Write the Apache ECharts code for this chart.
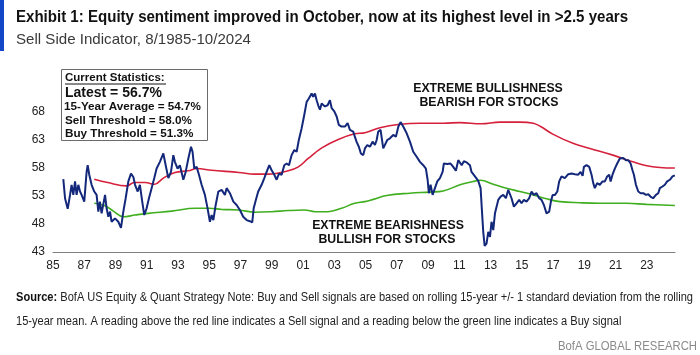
<!DOCTYPE html>
<html><head><meta charset="utf-8">
<script src="https://cdn.jsdelivr.net/npm/echarts@6/dist/echarts.min.js"></script>
<style>html,body{margin:0;padding:0;background:#fff}#c{width:700px;height:355px}</style>
</head><body><div id="c"></div>
<script>
// Sell Side Indicator (blue), decimal years
const sentimentYears = [
1985.66,1985.77,1985.94,1986.09,1986.19,1986.30,1986.41,1986.51,1986.62,1986.73,1986.83,1987.00,1987.15,1987.22,1987.32,1987.47,1987.64,1987.79,1987.90,1988.00,
1988.11,1988.33,1988.43,1988.54,1988.65,1988.75,1988.97,1989.18,1989.35,1989.50,1989.65,1989.82,1989.99,1990.14,1990.25,1990.42,1990.56,1990.71,1990.84,1990.99,
1991.14,1991.31,1991.48,1991.63,1991.84,1992.06,1992.21,1992.38,1992.55,1992.70,1992.80,1992.97,1993.12,1993.34,1993.49,1993.66,1993.83,1993.93,1994.04,1994.19,
1994.34,1994.51,1994.72,1994.89,1995.04,1995.15,1995.26,1995.41,1995.58,1995.79,1996.00,1996.11,1996.32,1996.54,1996.75,1996.96,1997.17,1997.39,1997.60,1997.75,
1997.84,1997.98,1998.13,1998.35,1998.52,1998.67,1998.84,1998.99,1999.16,1999.31,1999.46,1999.63,1999.80,1999.95,2000.10,2000.27,2000.44,2000.59,2000.73,2000.91,
2001.08,2001.23,2001.37,2001.55,2001.65,2001.76,2001.87,2001.97,2002.08,2002.19,2002.40,2002.57,2002.72,2002.83,2003.00,2003.15,2003.29,2003.46,2003.68,2003.85,
2004.00,2004.21,2004.42,2004.57,2004.70,2004.85,2004.96,2005.11,2005.28,2005.45,2005.60,2005.71,2005.81,2005.96,2006.05,2006.13,2006.24,2006.39,2006.56,2006.77,
2006.94,2007.10,2007.24,2007.41,2007.63,2007.84,2008.05,2008.27,2008.48,2008.69,2008.86,2008.97,2009.05,2009.16,2009.29,2009.44,2009.59,2009.76,2009.93,2010.01,
2010.23,2010.44,2010.61,2010.78,2010.93,2011.04,2011.15,2011.29,2011.47,2011.68,2011.78,2012.00,2012.21,2012.36,2012.45,2012.53,2012.62,2012.74,2012.85,2012.96,
2013.06,2013.17,2013.28,2013.38,2013.49,2013.64,2013.81,2013.98,2014.13,2014.24,2014.34,2014.49,2014.66,2014.83,2014.98,2015.13,2015.30,2015.47,2015.62,2015.77,
2015.94,2016.11,2016.26,2016.41,2016.58,2016.75,2016.86,2016.97,2017.12,2017.27,2017.39,2017.54,2017.75,2017.97,2018.18,2018.39,2018.61,2018.76,2018.89,2018.97,
2019.14,2019.31,2019.46,2019.57,2019.67,2019.82,2019.99,2020.16,2020.31,2020.46,2020.59,2020.68,2020.80,2020.95,2021.10,2021.27,2021.49,2021.66,2021.81,2021.96,
2022.08,2022.17,2022.30,2022.45,2022.60,2022.77,2022.94,2023.09,2023.23,2023.40,2023.58,2023.73,2023.83,2024.00,2024.15,2024.30,2024.47,2024.64,2024.79];
const sentimentValues = [
56.0,52.6,50.7,53.2,55.0,53.2,55.6,53.2,55.0,53.8,53.2,52.0,57.3,58.5,56.8,55.0,53.8,53.2,50.2,52.0,
49.9,53.2,50.8,49.3,50.2,48.4,49.0,48.4,47.3,50.2,52.6,55.6,57.0,56.4,55.0,53.8,55.0,52.0,49.6,50.8,
52.6,54.4,56.2,57.9,59.1,60.6,58.5,56.2,57.3,60.3,59.1,57.9,58.5,55.9,57.3,59.7,61.8,60.9,57.9,58.2,
56.8,55.0,53.2,50.8,48.4,49.6,48.7,51.4,53.8,54.1,53.2,54.4,53.5,52.0,51.4,50.5,49.3,48.7,48.5,48.3,
50.8,52.3,53.8,55.0,56.2,57.3,58.5,57.6,56.8,55.9,57.0,56.8,58.5,58.8,58.5,60.3,61.2,60.9,63.0,65.1,
67.5,69.8,70.4,71.3,70.7,71.3,70.1,69.2,68.4,69.5,69.0,69.2,70.1,68.7,68.1,67.2,65.7,65.4,65.4,66.0,
64.8,64.5,62.7,61.8,60.6,60.3,61.5,62.1,61.8,62.7,62.1,63.0,64.5,64.8,64.5,61.5,61.8,63.0,63.3,63.9,
63.6,65.4,66.2,65.4,64.2,62.7,60.9,60.0,59.1,58.5,57.9,55.9,53.5,55.0,53.2,54.4,55.6,56.2,57.3,58.8,
58.7,58.8,58.2,57.5,59.4,59.4,58.5,59.2,59.0,58.5,57.3,56.5,55.7,54.4,50.2,46.6,44.1,44.5,46.6,45.7,
48.4,46.9,49.9,50.2,52.3,52.9,53.2,52.6,54.1,54.4,52.6,51.1,51.7,52.3,51.7,52.3,52.0,52.6,53.8,53.2,
53.5,52.6,52.3,51.4,49.9,50.2,52.0,53.2,53.2,53.8,55.6,56.5,56.2,56.9,57.0,56.9,56.8,57.3,56.6,58.2,
58.5,58.2,56.8,55.3,54.4,55.3,55.0,55.6,55.6,56.5,56.8,55.6,56.8,57.9,58.8,59.7,59.8,59.4,59.4,58.8,
57.6,56.8,55.0,53.8,53.5,53.5,53.2,53.3,52.9,52.6,53.2,53.5,54.4,54.7,55.0,55.6,55.9,56.5,56.7];

// Sell threshold (red): rolling 15-year mean + 1 sd
const sellYears = [1987.64,1988.5,1989.7,1990.2,1990.9,1991.5,1992.06,1992.8,1993.66,1994.2,1995.15,1996.9,1997.9,1998.8,2000.05,2000.7,2001.33,2002.2,2003.25,2004.3,2004.96,2005.92,2007.2,2008.48,2010.0,2011.04,2012.4,2013.6,2014.87,2015.73,2016.2,2017.01,2018.27,2019.36,2020.83,2022.1,2023.0,2023.83,2024.79];
const sellValues = [56.0,55.4,54.8,55.4,55.4,55.1,56.2,57.2,57.5,57.9,57.6,57.2,56.9,56.9,57.5,58.2,59.7,61.6,63.1,64.1,64.3,65.2,65.8,66.0,66.0,66.1,65.9,66.2,66.2,66.0,65.4,64.0,62.4,61.5,60.3,59.1,58.4,58.1,58.0];

// Buy threshold (green): rolling 15-year mean - 1 sd
const buyYears = [1987.64,1988.3,1988.86,1989.5,1990.25,1991.1,1992.6,1994.1,1995.0,1995.8,1996.9,1997.9,1999.0,2000.05,2001.1,2001.76,2002.6,2003.46,2004.3,2004.96,2005.5,2006.35,2007.84,2009.12,2009.97,2011.04,2011.89,2012.36,2013.17,2014.02,2014.87,2015.73,2016.58,2017.44,2018.71,2019.99,2021.7,2022.98,2024.79];
const buyValues = [51.7,51.3,50.3,49.3,49.6,49.9,50.3,50.8,50.8,50.6,50.5,50.1,50.2,50.4,50.5,50.2,50.2,50.8,51.7,52.0,52.4,53.1,53.5,53.7,53.9,55.0,55.6,55.8,55.1,54.4,53.8,53.2,52.5,52.0,51.8,51.7,51.7,51.5,51.3];

const xTickYears = [1985,1987,1989,1991,1993,1995,1997,1999,2001,2003,2005,2007,2009,2011,2013,2015,2017,2019,2021,2023];
const yTicks = [43,48,53,58,63,68];

const statLines = ['Latest = 56.7%','15-Year Average = 54.7%','Sell Threshold = 58.0%','Buy Threshold = 51.3%'];

const zip = (xs, ys) => xs.map((x, i) => [x, ys[i]]);
const ARIAL = '"Liberation Sans",Arial,sans-serif';

// horizontal scale so that an Arial-family text imitates the condensed house font
const mctx = document.createElement('canvas').getContext('2d');
function textW(str, size, weight) {
  mctx.font = (weight || 'normal') + ' ' + size + 'px "Liberation Sans"';
  return mctx.measureText(str).width;
}
const titleText = 'Exhibit 1: Equity sentiment improved in October, now at its highest level in >2.5 years';
const subText = 'Sell Side Indicator, 8/1985-10/2024';
const src1a = 'Source:';
const src1b = ' BofA US Equity & Quant Strategy Note: Buy and Sell signals are based on rolling 15-year +/- 1 standard deviation from the rolling';
const src2 = '15-year mean. A reading above the red line indicates a Sell signal and a reading below the green line indicates a Buy signal';
const brand = 'BofA GLOBAL RESEARCH';
const titleScale = 612 / textW(titleText, 16, 'bold');
const subScale = 235 / textW(subText, 15);
const srcScale = 677 / (textW(src1a, 12, 'bold') + textW(src1b, 12));
const brandScale = 139 / textW(brand, 13);

const chart = echarts.init(document.getElementById('c'), null, {renderer: 'canvas'});
chart.setOption({
  animation: false,
  backgroundColor: '#fff',
  grid: {left: 53, right: 25, top: 84, bottom: 103},
  xAxis: {
    type: 'value', min: 1985, max: 2024.8,
    axisLine: {show: true, lineStyle: {color: '#808080', width: 1}},
    axisTick: {show: false}, splitLine: {show: false},
    axisLabel: {customValues: xTickYears, color: '#222', fontSize: 12, fontFamily: ARIAL, margin: 8,
      formatter: v => String(Math.round(v) % 100).padStart(2, '0')}
  },
  yAxis: {
    type: 'value', min: 43, max: 73,
    axisLine: {show: false}, axisTick: {show: false}, splitLine: {show: false},
    axisLabel: {customValues: yTicks, color: '#222', fontSize: 12, fontFamily: ARIAL, margin: 8}
  },
  series: [
    {type: 'line', data: zip(sellYears, sellValues), symbol: 'none', smooth: 0.4, z: 2,
      lineStyle: {color: '#d6213c', width: 1.6}},
    {type: 'line', data: zip(buyYears, buyValues), symbol: 'none', smooth: 0.4, z: 2,
      lineStyle: {color: '#3fae1f', width: 1.6}},
    {type: 'line', data: zip(sentimentYears, sentimentValues), symbol: 'none', z: 3,
      lineStyle: {color: '#13287a', width: 2}}
  ],
  graphic: [
    {type: 'rect', x: 0, y: 0, shape: {width: 4, height: 51}, style: {fill: '#1447c8'}},
    {type: 'text', x: 16, y: 18, scaleX: titleScale, style: {text: titleText, verticalAlign: 'middle',
      fontFamily: ARIAL, fontWeight: 'bold', fontSize: 16, fill: '#111'}},
    {type: 'text', x: 16, y: 40, scaleX: subScale, style: {text: subText, verticalAlign: 'middle',
      fontFamily: ARIAL, fontSize: 15, fill: '#3a3a3a'}},
    // stats box
    {type: 'rect', z: 10, shape: {x: 61.5, y: 69.5, width: 146, height: 71}, style: {fill: '#fff', stroke: '#6b6b6b', lineWidth: 1}},
    {type: 'text', z: 11, style: {x: 65, y: 78, text: 'Current Statistics:', fontFamily: ARIAL, fontWeight: 'bold', fontSize: 11.5, fill: '#111', verticalAlign: 'middle'}},
    {type: 'line', z: 11, shape: {x1: 65, y1: 84, x2: 166, y2: 84}, style: {stroke: '#111', lineWidth: 1}},
    {type: 'text', z: 11, style: {x: 65, y: 93, text: statLines[0], fontFamily: ARIAL, fontWeight: 'bold', fontSize: 14, fill: '#111', verticalAlign: 'middle'}},
    {type: 'text', z: 11, style: {x: 64, y: 107, text: statLines[1], fontFamily: ARIAL, fontWeight: 'bold', fontSize: 11.7, fill: '#111', verticalAlign: 'middle'}},
    {type: 'text', z: 11, style: {x: 65, y: 121, text: statLines[2], fontFamily: ARIAL, fontWeight: 'bold', fontSize: 11.7, fill: '#111', verticalAlign: 'middle'}},
    {type: 'text', z: 11, style: {x: 65, y: 134, text: statLines[3], fontFamily: ARIAL, fontWeight: 'bold', fontSize: 11.7, fill: '#111', verticalAlign: 'middle'}},
    // annotations
    {type: 'text', z: 11, style: {x: 488, y: 89, text: 'EXTREME BULLISHNESS', align: 'center', verticalAlign: 'middle', fontFamily: ARIAL, fontWeight: 'bold', fontSize: 12.3, fill: '#111'}},
    {type: 'text', z: 11, style: {x: 489, y: 103, text: 'BEARISH FOR STOCKS', align: 'center', verticalAlign: 'middle', fontFamily: ARIAL, fontWeight: 'bold', fontSize: 12.3, fill: '#111'}},
    {type: 'text', z: 11, style: {x: 388, y: 226, text: 'EXTREME BEARISHNESS', align: 'center', verticalAlign: 'middle', fontFamily: ARIAL, fontWeight: 'bold', fontSize: 12.3, fill: '#111'}},
    {type: 'text', z: 11, style: {x: 387, y: 240, text: 'BULLISH FOR STOCKS', align: 'center', verticalAlign: 'middle', fontFamily: ARIAL, fontWeight: 'bold', fontSize: 12.3, fill: '#111'}},
    // footer
    {type: 'text', z: 11, x: 16, y: 298, scaleX: srcScale, style: {verticalAlign: 'middle',
      text: '{b|' + src1a + '}' + src1b,
      fontFamily: ARIAL, fontSize: 12, fill: '#222',
      rich: {b: {fontFamily: ARIAL, fontWeight: 'bold', fontSize: 12, fill: '#111'}}}},
    {type: 'text', z: 11, x: 16, y: 322, scaleX: srcScale, style: {verticalAlign: 'middle',
      text: src2, fontFamily: ARIAL, fontSize: 12, fill: '#222'}},
    {type: 'text', z: 11, x: 697, y: 346, scaleX: brandScale, style: {align: 'right', verticalAlign: 'middle',
      text: brand, fontFamily: ARIAL, fontSize: 13, fill: '#8a8a8a'}}
  ]
});
</script>
</body></html>
